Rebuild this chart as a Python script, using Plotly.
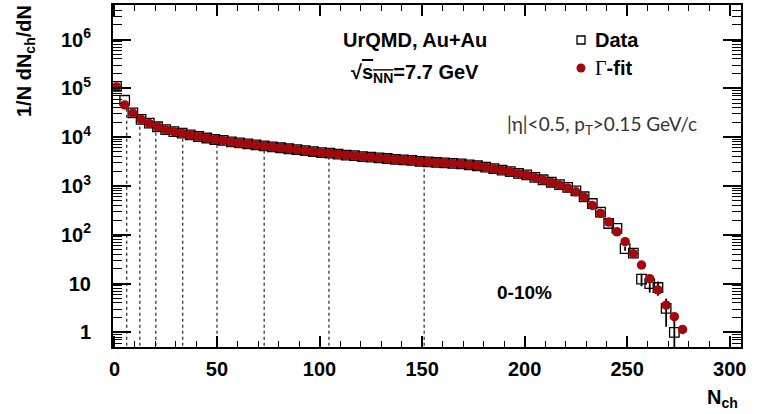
import numpy as np
import plotly.graph_objects as go

# ---------------- data ----------------
nch = [1, 5, 9, 13, 17, 21, 25, 29, 33, 37,
       41, 45, 49, 53, 57, 61, 65, 69, 73, 77,
       81, 85, 89, 93, 97, 101, 105, 109, 113, 117,
       121, 125, 129, 133, 137, 141, 145, 149, 153, 157,
       161, 165, 169, 173, 177, 181, 185, 189, 193, 197,
       201, 205, 209, 213, 217, 221, 225, 229, 233, 237,
       241, 245, 249, 253, 257, 261, 265, 269, 273, 277]

gamma_fit = [107000, 45700, 30900, 22900, 19100, 16200, 14100, 12900, 12000, 11000,
             10200, 9550, 8910, 8510, 7940, 7590, 7240, 6920, 6610, 6310,
             6030, 5750, 5500, 5250, 5010, 4790, 4680, 4470, 4270, 4170,
             3980, 3890, 3720, 3630, 3470, 3390, 3310, 3160, 3090, 3020,
             2950, 2880, 2820, 2690, 2570, 2400, 2240, 2090, 1950, 1780,
             1660, 1480, 1320, 1170, 1050, 912, 759, 589, 398, 275,
             182, 115, 72, 41, 24, 12.6, 7.4, 3.6, 2.1, 1.15]

data_vals = [110000, 57000, 31500, 23200, 19300, 16300, 14200, 13000, 12100, 11100,
             10300, 9600, 8950, 8550, 7980, 7620, 7270, 6950, 6640, 6340,
             6060, 5780, 5520, 5270, 5030, 4810, 4700, 4490, 4290, 4190,
             4000, 3910, 3740, 3650, 3490, 3410, 3330, 3180, 3110, 3040,
             2970, 2900, 2840, 2710, 2590, 2420, 2260, 2110, 1970, 1800,
             1680, 1500, 1340, 1190, 1060, 930, 790, 600, 437, 290,
             170, 135, 52, 42, 12.3, 10.0, 8.3, 3.1, 1.0, None]

data_err = [300, 200, 150, 120, 110, 100, 90, 90, 85, 80,
            80, 75, 75, 70, 70, 68, 66, 64, 62, 60,
            60, 58, 56, 55, 54, 52, 52, 50, 50, 48,
            48, 46, 46, 45, 44, 44, 43, 42, 42, 41,
            41, 40, 40, 39, 38, 37, 36, 35, 34, 33,
            32, 30, 28, 27, 25, 23, 21, 18, 15, 12,
            10, 8, 5, 5, 3.5, 3.5, 2.7, 1.8, 0.8, 0]

centrality_edges = [6, 12.4, 20.2, 33.3, 50, 73, 104.6, 151]

y_tickvals = [1, 10, 100, 1e3, 1e4, 1e5, 1e6]
y_ticktext = ["1", "10", "10<sup>2</sup>", "10<sup>3</sup>", "10<sup>4</sup>",
              "10<sup>5</sup>", "10<sup>6</sup>"]
x_tickvals = [0, 50, 100, 150, 200, 250, 300]

# ---------------- figure ----------------
W, H = 761, 414
ML, MR, MT, MB = 113, 20, 5, 67
PW, PH = W - ML - MR, H - MT - MB


def px_x(px):
    return (px - ML) / PW


def px_y(py):
    return 1 - (py - MT) / PH


FONT = "Liberation Sans, Arial, Helvetica, sans-serif"
RED = "#a3080c"
FS = 20

fig = go.Figure()

# dashed centrality boundaries (from bottom up to the fit curve)
edge_tops = 10 ** np.interp(centrality_edges, nch, np.log10(gamma_fit))
for xe, yt in zip(centrality_edges, edge_tops):
    fig.add_trace(go.Scatter(x=[xe, xe], y=[0.4, yt], mode="lines",
                             line=dict(color="#111111", width=1.1, dash="3px,3px"),
                             showlegend=False, hoverinfo="skip"))

fig.add_trace(go.Scatter(
    x=nch, y=data_vals, mode="markers", name="Data", showlegend=False,
    marker=dict(symbol="square-open", size=9.5, color="black", line=dict(width=1.3, color="black")),
    error_y=dict(type="data", array=data_err, color="black", thickness=1.8, width=0),
))
fig.add_trace(go.Scatter(
    x=nch, y=gamma_fit, mode="markers", name="Γ-fit", showlegend=False,
    marker=dict(symbol="circle", size=9.5, color=RED),
))

minor_y = [m * 10 ** k for k in range(-1, 7) for m in range(2, 10)]

fig.update_layout(
    width=W, height=H,
    margin=dict(l=ML, r=MR, t=MT, b=MB, autoexpand=False),
    paper_bgcolor="white", plot_bgcolor="white",
    font=dict(family=FONT, size=FS, color="black"),
    showlegend=False,
    xaxis=dict(range=[-0.7, 305.5], showgrid=False, zeroline=False, automargin=False,
               tickmode="array", tickvals=x_tickvals,
               ticks="inside", ticklen=11, tickwidth=1.5, tickcolor="black",
               showline=True, linewidth=2, linecolor="black", mirror="allticks",
               tickfont=dict(size=FS, weight="bold", family=FONT),
               ticklabelstandoff=3,
               minor=dict(dtick=10, tick0=0, ticks="inside", ticklen=6, tickwidth=1.2,
                          tickcolor="black", showgrid=False)),
    yaxis=dict(type="log", range=[-0.30, 6.707], showgrid=False, zeroline=False, automargin=False,
               tickmode="array", tickvals=y_tickvals, ticktext=y_ticktext,
               ticks="inside", ticklen=18, tickwidth=1.5, tickcolor="black",
               showline=True, linewidth=2, linecolor="black", mirror="allticks",
               tickfont=dict(size=FS, weight="bold", family=FONT),
               ticklabelstandoff=16,
               minor=dict(tickmode="array", tickvals=minor_y, ticks="inside", ticklen=9,
                          tickwidth=1.2, tickcolor="black", showgrid=False)),
)

ann = [
    dict(text="<b>UrQMD, Au+Au</b>", x=415, y=40, size=FS, color="black", fam=FONT, xa="center"),
    dict(text="<b>√<span style='text-decoration:overline'>s<sub>NN</sub></span>=7.7 GeV</b>",
         x=415, y=74, size=FS, color="black", fam=FONT, xa="center"),
    dict(text="|η|<0.5, p<sub>T</sub>>0.15 GeV/c", x=602, y=125, size=19, color="#333333",
         fam="Lato, Open Sans, sans-serif", xa="center"),
    dict(text="<b>0-10%</b>", x=524, y=292, size=19, color="black", fam=FONT, xa="center"),
    dict(text="<b>Data</b>", x=593, y=40, size=FS, color="black", fam=FONT, xa="left"),
    dict(text="<span style='font-family:Liberation Serif, Times New Roman, serif'>Γ</span><b>-fit</b>",
         x=593, y=68, size=FS, color="black", fam=FONT, xa="left"),
]
for a in ann:
    fig.add_annotation(text=a["text"], x=px_x(a["x"]), y=px_y(a["y"]),
                       xref="paper", yref="paper", showarrow=False,
                       xanchor=a["xa"], yanchor="middle",
                       font=dict(size=a["size"], color=a["color"], family=a["fam"]))

# legend symbols
fig.add_shape(type="rect", xref="paper", yref="paper",
              x0=px_x(577), x1=px_x(585), y0=px_y(44), y1=px_y(36),
              line=dict(color="black", width=1.3), fillcolor="rgba(0,0,0,0)")
fig.add_shape(type="circle", xref="paper", yref="paper",
              x0=px_x(576.5), x1=px_x(585.5), y0=px_y(72.5), y1=px_y(63.5),
              line=dict(color=RED, width=0), fillcolor=RED)

# axis titles (ROOT style: placed at the far end of the axes)
fig.add_annotation(text="<b>N<sub>ch</sub></b>", x=px_x(740), y=px_y(384), xref="paper", yref="paper",
                   showarrow=False, xanchor="right", yanchor="top",
                   font=dict(size=FS, family=FONT, color="black"))
fig.add_annotation(text="<b>1/N dN<sub>ch</sub>/dN</b>", x=px_x(25), y=px_y(3),
                   xref="paper", yref="paper", showarrow=False, textangle=-90,
                   xanchor="center", yanchor="top",
                   font=dict(size=FS, family=FONT, color="black"))

fig.write_html("out.html", config={"displayModeBar": False},
               post_script="document.body.style.margin='0';")
